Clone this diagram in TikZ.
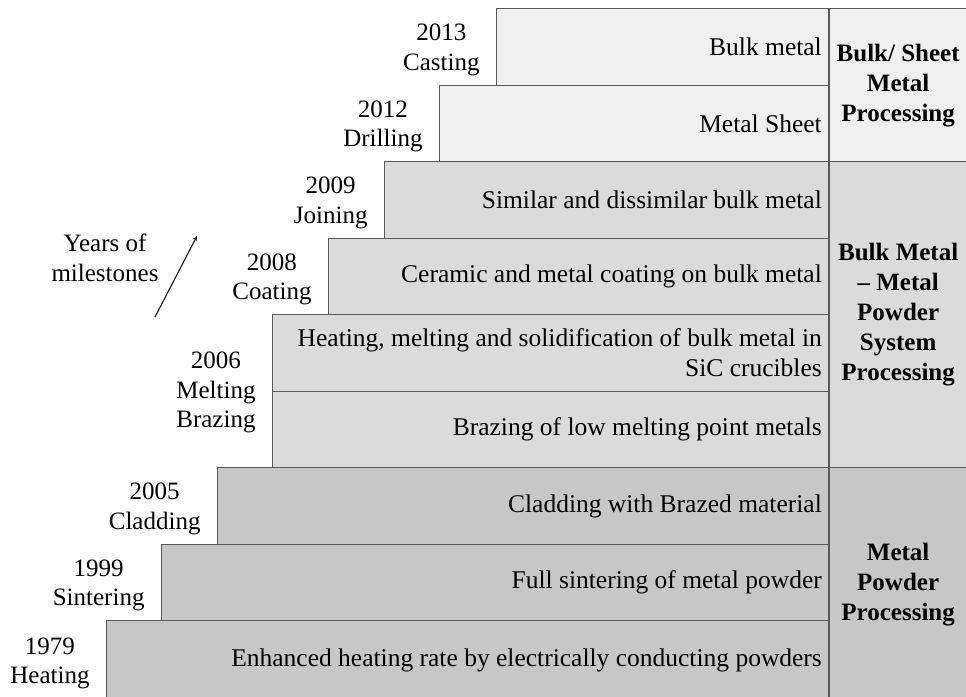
\documentclass[tikz,border=0pt]{standalone}
\usepackage{fontspec}
\setmainfont{Liberation Serif}
\usetikzlibrary{arrows,positioning}
\newcommand{\rowfont}{\fontsize{25.5}{30}\selectfont}
\newcommand{\labelfont}{\fontsize{25}{29.5}\selectfont}
\newcommand{\groupfont}{\fontsize{25}{30}\selectfont\bfseries}
\tikzset{
  stage/.style={
    rectangle, draw=black!65, line width=1.3pt, anchor=north east,
    minimum height=76.5pt, inner sep=0pt
  },
  early/.style={stage, fill=black!22},
  middle/.style={stage, fill=black!14},
  late/.style={stage, fill=black!6},
  desc/.style={anchor=east, align=right, font=\rowfont, inner sep=0pt, xshift=-7pt},
  yearlabel/.style={anchor=east, align=center, font=\labelfont, inner sep=0pt,
    xshift=-16pt, yshift=-3pt},
  group/.style={
    rectangle, draw=black!65, line width=1.3pt, anchor=north west,
    minimum width=137pt, align=center, font=\groupfont, inner sep=0pt
  },
  milestone/.style={->, >=stealth, line width=1.2pt, color=black!85},
}

\begin{document}
\begin{tikzpicture}[x=1pt, y=-1pt]
  \useasboundingbox (0,0) rectangle (966,696);

  % Stages, newest on top
  \node[late, minimum width=332pt] (r2013) at (829,8) {};
  \node[late, minimum width=389pt] (r2012) at (829,84.5) {};
  \node[middle, minimum width=444pt] (r2009) at (829,161) {};
  \node[middle, minimum width=500pt] (r2008) at (829,237.5) {};
  \node[middle, minimum width=556pt] (r2006a) at (829,314) {};
  \node[middle, minimum width=556pt] (r2006b) at (829,390.5) {};
  \node[early, minimum width=611pt] (r2005) at (829,467) {};
  \node[early, minimum width=667pt] (r1999) at (829,543.5) {};
  \node[early, minimum width=722pt, minimum height=80pt] (r1979) at (829,620) {};

  % What was processed
  \node[desc] (d2013) at (r2013.east) {Bulk metal};
  \node[desc] (d2012) at (r2012.east) {Metal Sheet};
  \node[desc] (d2009) at (r2009.east) {Similar and dissimilar bulk metal};
  \node[desc] (d2008) at (r2008.east) {Ceramic and metal coating on bulk metal};
  \node[desc] (d2006a) at (r2006a.east)
       {Heating, melting and solidification of bulk metal in\\SiC crucibles};
  \node[desc] (d2006b) at (r2006b.east) {Brazing of low melting point metals};
  \node[desc] (d2005) at (r2005.east) {Cladding with Brazed material};
  \node[desc] (d1999) at (r1999.east) {Full sintering of metal powder};
  \node[desc] (d1979) at (r1979.east)
       {Enhanced heating rate by electrically conducting powders};

  % Years
  \node[yearlabel] (y2013) at (r2013.west) {2013\\Casting};
  \node[yearlabel] (y2012) at (r2012.west) {2012\\Drilling};
  \node[yearlabel] (y2009) at (r2009.west) {2009\\Joining};
  \node[yearlabel] (y2008) at (r2008.west) {2008\\Coating};
  \node[yearlabel, yshift=2pt] (y2006) at (r2006a.south west) {2006\\Melting\\Brazing};
  \node[yearlabel] (y2005) at (r2005.west) {2005\\Cladding};
  \node[yearlabel] (y1999) at (r1999.west) {1999\\Sintering};
  \node[yearlabel] (y1979) at (r1979.west) {1979\\Heating};

  % Processing groups
  \node[group, fill=black!6, minimum height=153pt] (gsheet) at (829,8)
       {Bulk/ Sheet\\Metal\\Processing};
  \node[group, fill=black!14, minimum height=306pt] (gsystem) at (829,161)
       {Bulk Metal\\\textendash{} Metal\\Powder\\System\\Processing};
  \node[group, fill=black!22, minimum height=233pt] (gpowder) at (829,467)
       {Metal\\Powder\\Processing};

  % Time direction
  \node[font=\labelfont, align=center] (years) at (105,258) {Years of\\milestones};
  \coordinate (tail) at (155,317);
  \coordinate (tip) at (197,236);
  \draw[milestone] (tail) -- (tip);
\end{tikzpicture}
\end{document}
